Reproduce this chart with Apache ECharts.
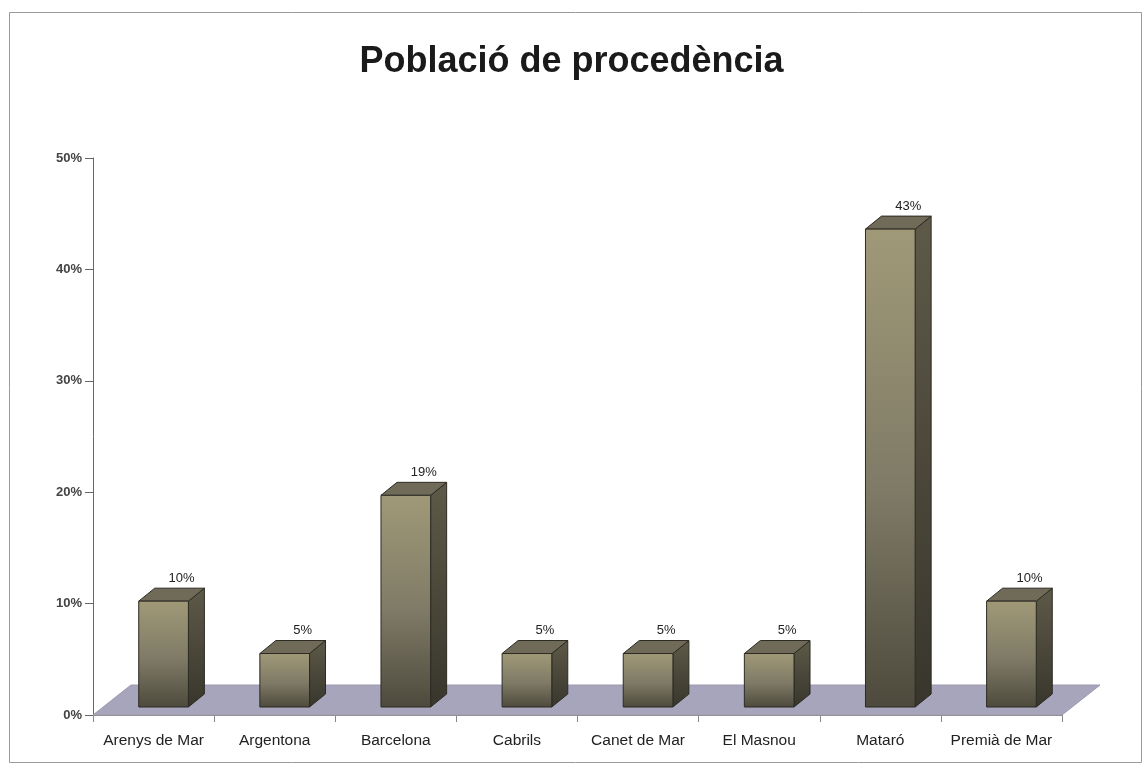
<!DOCTYPE html>
<html>
<head>
<meta charset="utf-8">
<title>Població de procedència</title>
<script src="https://cdn.jsdelivr.net/npm/echarts@6/dist/echarts.min.js"></script>
<style>
  html, body { margin: 0; padding: 0; background: #fff; }
  #chart { width: 1143px; height: 765px; }
</style>
</head>
<body>
<div id="chart"></div>
<script>
// data (labels show rounded percentages)
const towns = ['Arenys de Mar', 'Argentona', 'Barcelona', 'Cabrils', 'Canet de Mar', 'El Masnou', 'Mataró', 'Premià de Mar'];
const shares = [9.5, 4.8, 19.0, 4.8, 4.8, 4.8, 42.9, 9.5];
const yTicks = [0, 10, 20, 30, 40, 50];

const chart = echarts.init(document.getElementById('chart'), null, { renderer: 'canvas' });

// pseudo-3d look
const FLOOR_DX = 38, FLOOR_DY = -30;
const BAR_OX = 10, BAR_OY = -8;   // front face offset from the axis line
const BAR_DX = 16, BAR_DY = -13;  // depth of the box
const FONT = 'Liberation Sans, Arial, sans-serif';

const frontFill = {
  type: 'linear', x: 0, y: 0, x2: 0, y2: 1,
  colorStops: [
    { offset: 0, color: '#a09978' },
    { offset: 0.55, color: '#7f7a66' },
    { offset: 1, color: '#4d4a3d' }
  ]
};
const sideFill = {
  type: 'linear', x: 0, y: 0, x2: 0, y2: 1,
  colorStops: [
    { offset: 0, color: '#5e5a49' },
    { offset: 1, color: '#38362c' }
  ]
};

const renderFloor = (params) => {
  const cs = params.coordSys;
  const yb = cs.y + cs.height;
  return {
    type: 'polygon',
    shape: {
      points: [
        [cs.x, yb],
        [cs.x + cs.width, yb],
        [cs.x + cs.width + FLOOR_DX, yb + FLOOR_DY],
        [cs.x + FLOOR_DX, yb + FLOOR_DY]
      ]
    },
    style: { fill: '#a7a5bb', stroke: '#9c9ab0', lineWidth: 1 },
    silent: true
  };
};

const renderBar = (params, api) => {
  const idx = api.value(0);
  const val = api.value(1);
  const base = api.coord([idx, 0]);
  const top = api.coord([idx, val]);
  const band = api.size([1, 0])[0];
  const w = band * 0.41;
  const x0 = base[0] + BAR_OX - w / 2;
  const x1 = x0 + w;
  const yb = base[1] + BAR_OY;
  const yt = top[1] + BAR_OY;
  const edge = { stroke: '#2c2b23', lineWidth: 1 };
  return {
    type: 'group',
    children: [
      {
        type: 'polygon',
        shape: { points: [[x1, yb], [x1 + BAR_DX, yb + BAR_DY], [x1 + BAR_DX, yt + BAR_DY], [x1, yt]] },
        style: { fill: sideFill, ...edge }
      },
      {
        type: 'polygon',
        shape: { points: [[x0, yt], [x1, yt], [x1 + BAR_DX, yt + BAR_DY], [x0 + BAR_DX, yt + BAR_DY]] },
        style: { fill: '#6f6b58', ...edge }
      },
      {
        type: 'rect',
        shape: { x: x0, y: yt, width: w, height: yb - yt },
        style: { fill: frontFill, ...edge }
      },
      {
        type: 'text',
        style: {
          x: (x0 + x1) / 2 + BAR_DX + 2,
          y: yt + BAR_DY - 10,
          text: Math.round(val) + '%',
          align: 'center',
          verticalAlign: 'middle',
          fontFamily: FONT,
          fontSize: 13,
          fill: '#222'
        }
      }
    ]
  };
};

const option = {
  backgroundColor: '#fff',
  animation: false,
  title: {
    text: 'Població de procedència',
    left: 'center',
    top: 39,
    textStyle: {
      fontFamily: FONT,
      fontSize: 36,
      fontWeight: 'bold',
      color: '#1a1a1a'
    }
  },
  graphic: [
    {
      type: 'rect',
      left: 7,
      top: 10,
      shape: { width: 1132, height: 750 },
      style: { fill: 'none', stroke: '#9a9a9a', lineWidth: 1 },
      silent: true
    }
  ],
  grid: { left: 93, right: 81, top: 158, bottom: 50 },
  xAxis: {
    type: 'category',
    data: towns,
    boundaryGap: true,
    axisLine: { show: true, lineStyle: { color: '#888' } },
    axisTick: { show: true, length: 7, lineStyle: { color: '#888' } },
    axisLabel: {
      margin: 18,
      fontFamily: FONT,
      fontSize: 15.5,
      color: '#222',
      interval: 0
    }
  },
  yAxis: {
    type: 'value',
    min: yTicks[0],
    max: yTicks[yTicks.length - 1],
    interval: 10,
    splitLine: { show: false },
    axisLine: { show: true, lineStyle: { color: '#666' } },
    axisTick: { show: true, length: 8, lineStyle: { color: '#666' } },
    axisLabel: {
      formatter: '{value}%',
      margin: 11,
      fontFamily: FONT,
      fontSize: 13,
      fontWeight: 'bold',
      color: '#444'
    }
  },
  series: [
    {
      name: 'floor',
      type: 'custom',
      renderItem: renderFloor,
      data: [[0, 0]],
      z: 1,
      silent: true
    },
    {
      name: 'Població',
      type: 'custom',
      renderItem: renderBar,
      data: shares.map((v, i) => [i, v]),
      encode: { x: 0, y: 1 },
      z: 2
    }
  ]
};

chart.setOption(option);
</script>
</body>
</html>
